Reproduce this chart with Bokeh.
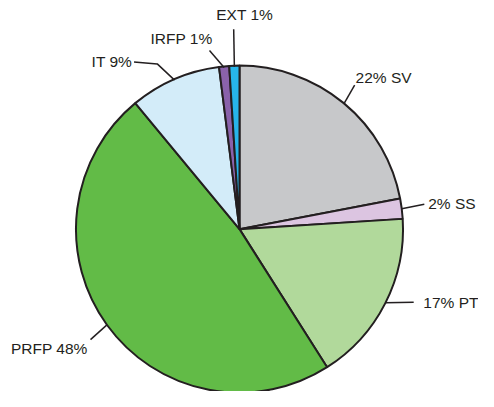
import math
from bokeh.plotting import figure
from bokeh.models import Range1d, ColumnDataSource
from bokeh.core.properties import value
from bokeh.embed import file_html
from bokeh.resources import INLINE

# ---- data ----
categories = ["SV", "SS", "PT", "PRFP", "IT", "IRFP", "EXT"]
percents = [22, 2, 17, 48, 9, 1, 1]
labels = ["22% SV", "2% SS", "17% PT", "PRFP 48%", "IT 9%", "IRFP 1%", "EXT 1%"]
colors = ["#c7c8ca", "#dcc5e1", "#b1d99b", "#62bb47", "#d3ecf9", "#8a62ab", "#27b5ea"]

# ---- layout (reference-image pixel coords; y downwards) ----
CX, CY, R = 247, 238, 169
leader_out = {
    "SV": [(366, 88)],
    "SS": [(438, 212)],
    "PT": [(427, 314)],
    "PRFP": [(93, 353)],
    "IT": [(162, 66), (138, 64)],
    "IRFP": [(216, 52)],
    "EXT": [(241, 30)],
}
text_pos = {
    "SV": (367, 80, "left"),
    "SS": (442, 211, "left"),
    "PT": (437, 314, "left"),
    "PRFP": (90, 362, "right"),
    "IT": (136, 63, "right"),
    "IRFP": (155, 40, "left"),
    "EXT": (223, 15, "left"),
}

p = figure(width=478, height=391, output_backend="svg", toolbar_location=None,
           x_range=Range1d(0, 494), y_range=Range1d(-407, 0), min_border=0)
p.axis.visible = False
p.grid.visible = False
p.outline_line_color = None
p.background_fill_color = "white"
p.border_fill_color = "white"

total = float(sum(percents))
starts, ends, mids = [], [], []
cum = 0.0
for v in percents:
    a0 = math.pi / 2 - 2 * math.pi * cum / total
    cum += v
    a1 = math.pi / 2 - 2 * math.pi * cum / total
    starts.append(a0)
    ends.append(a1)
    mids.append((a0 + a1) / 2)

src = ColumnDataSource(dict(cat=categories, start=starts, end=ends, color=colors))
p.wedge(x=CX, y=-CY, radius=R, start_angle="start", end_angle="end", direction="clock",
        fill_color="color", line_color="#231f20", line_width=2, source=src)

xs, ys = [], []
for c, m in zip(categories, mids):
    pts = [(CX + R * math.cos(m), CY - R * math.sin(m))] + leader_out[c]
    xs.append([q[0] for q in pts])
    ys.append([-q[1] for q in pts])
p.multi_line(xs=xs, ys=ys, line_color="#231f20", line_width=1.5)

for c, lab in zip(categories, labels):
    tx, ty, al = text_pos[c]
    p.text(x=[tx], y=[-ty], text=[lab], text_font=value("Liberation Sans"),
           text_font_size="15.5px", text_color="#231f20", text_align=al,
           text_baseline="middle")

open("out.html", "w").write(file_html(p, INLINE))
